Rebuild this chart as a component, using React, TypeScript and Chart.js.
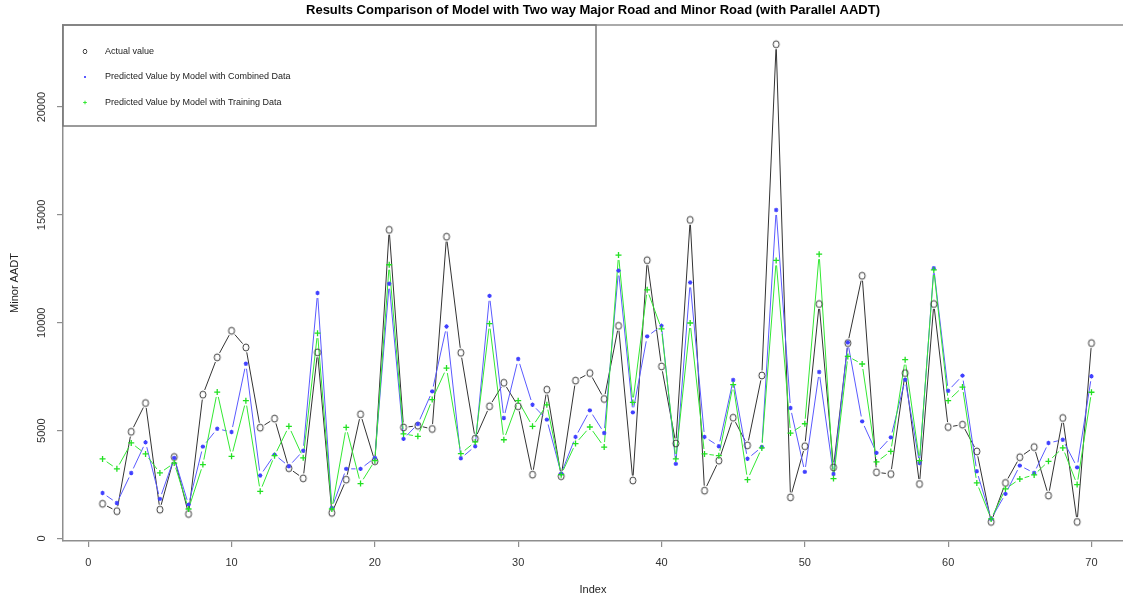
import React, { useEffect, useRef } from 'react';
import { Chart, registerables } from 'chart.js';

Chart.register(...registerables);

const indexValues = [
  1, 2, 3, 4, 5, 6, 7, 8, 9, 10, 11, 12, 13, 14, 15, 16, 17, 18, 19, 20,
  21, 22, 23, 24, 25, 26, 27, 28, 29, 30, 31, 32, 33, 34, 35, 36, 37, 38, 39, 40,
  41, 42, 43, 44, 45, 46, 47, 48, 49, 50, 51, 52, 53, 54, 55, 56, 57, 58, 59, 60,
  61, 62, 63, 64, 65, 66, 67, 68, 69, 70,
];

const actualValues = [
  1610, 1270, 4950, 6280, 1340, 3780, 1140, 6670, 8400, 9630,
  8860, 5140, 5560, 3260, 2790, 8630, 1190, 2730, 5760, 3580,
  14310, 5150, 5230, 5080, 13990, 8610, 4630, 6130, 7220, 6130,
  2960, 6900, 2890, 7320, 7670, 6470, 9860, 2690, 12900, 7980,
  4410, 14770, 2220, 3610, 5600, 4320, 7560, 22910, 1910, 4280,
  10870, 3300, 9060, 12180, 3070, 2990, 7670, 2530, 10870, 5170,
  5280, 4040, 770, 2580, 3770, 4240, 1990, 5590, 770, 9060,
];

const combinedValues = [
  2110, 1650, 3040, 4460, 1840, 3740, 1570, 4260, 5090, 4940,
  8100, 2920, 3890, 3350, 4070, 11380, 1420, 3230, 3230, 3740,
  11810, 4620, 5310, 6820, 9830, 3720, 4280, 11250, 5590, 8320,
  6200, 5510, 3010, 4710, 5940, 4890, 12420, 5850, 9370, 9860,
  3460, 11870, 4710, 4280, 7350, 3700, 4240, 15230, 6050, 3090,
  7720, 2990, 9090, 5430, 3970, 4690, 7360, 3500, 12530, 6850,
  7550, 3120, 910, 2070, 3380, 3040, 4430, 4580, 3300, 7520,
];

const trainingValues = [
  3690, 3230, 4430, 3920, 3040, 3500, 1370, 3430, 6790, 3810,
  6390, 2190, 3840, 5200, 3740, 9520, 1370, 5150, 2550, 3610,
  12690, 4850, 4740, 6440, 7900, 3940, 4480, 9960, 4580, 6390,
  5200, 6200, 2960, 4400, 5170, 4240, 13140, 6310, 11530, 9720,
  3690, 9990, 3920, 3840, 7130, 2730, 4200, 12890, 4890, 5320,
  13180, 2780, 8440, 8090, 3550, 4040, 8290, 3610, 12450, 6390,
  7020, 2580, 910, 2300, 2760, 2950, 3580, 4200, 2500, 6780,
];

const xTickValues = [0, 10, 20, 30, 40, 50, 60, 70];
const yTickValues = [0, 5000, 10000, 15000, 20000];

const seriesLabels = [
  'Actual value',
  'Predicted Value by Model with Combined Data',
  'Predicted Value by Model with Training Data',
];

const chartTitle = 'Results Comparison of Model with Two way Major Road and Minor Road (with Parallel AADT)';
const xTitle = 'Index';
const yTitle = 'Minor AADT';

const FONT = "'Liberation Sans', Arial, sans-serif";
const AXIS_COLOR = '#8e8e8e';
const BLACK = '#333333';
const BLUE = '#5a5aff';
const GREEN = '#33e833';

function makeOMarker(w: number, h: number, lw: number): HTMLCanvasElement {
  const c = document.createElement('canvas');
  c.width = Math.ceil(w + lw * 2 + 2);
  c.height = Math.ceil(h + lw * 2 + 2);
  const g = c.getContext('2d')!;
  g.strokeStyle = '#3a3a3a';
  g.lineWidth = lw;
  g.beginPath();
  g.ellipse(c.width / 2, c.height / 2, w / 2, h / 2, 0, 0, Math.PI * 2);
  g.stroke();
  return c;
}

const gapLinesPlugin = {
  id: 'gapLines',
  beforeDatasetsDraw(chart: any) {
    const { ctx, chartArea } = chart;
    const gap = 5;
    ctx.save();
    ctx.beginPath();
    ctx.rect(chartArea.left, chartArea.top, chartArea.right - chartArea.left, chartArea.bottom - chartArea.top);
    ctx.clip();
    [0, 1, 2].forEach((di) => {
      const meta = chart.getDatasetMeta(di);
      const ds = chart.data.datasets[di];
      ctx.strokeStyle = ds.borderColor;
      ctx.lineWidth = 1;
      ctx.beginPath();
      for (let k = 0; k < meta.data.length - 1; k++) {
        const p = meta.data[k];
        const q = meta.data[k + 1];
        const dx = q.x - p.x;
        const dy = q.y - p.y;
        const len = Math.sqrt(dx * dx + dy * dy);
        if (len <= gap * 2) continue;
        const ux = dx / len;
        const uy = dy / len;
        ctx.moveTo(p.x + ux * gap, p.y + uy * gap);
        ctx.lineTo(q.x - ux * gap, q.y - uy * gap);
      }
      ctx.stroke();
    });
    ctx.restore();
  },
};

const frameLegendPlugin = {
  id: 'frameLegend',
  afterDraw(chart: any) {
    const { ctx, chartArea } = chart;
    const left = chartArea.left;
    const top = chartArea.top;
    ctx.save();
    ctx.strokeStyle = AXIS_COLOR;
    ctx.lineWidth = 1.5;
    ctx.beginPath();
    ctx.moveTo(left, top);
    ctx.lineTo(chartArea.right, top);
    ctx.stroke();
    const boxW = 533;
    const boxH = 101;
    ctx.strokeStyle = '#7a7a7a';
    ctx.lineWidth = 1.5;
    ctx.strokeRect(left, top, boxW, boxH);
    const rows = [26.5, 52, 77.5];
    const mx = left + 22;
    const tx = left + 42;
    ctx.font = `9px ${FONT}`;
    ctx.textBaseline = 'middle';
    ctx.textAlign = 'left';
    rows.forEach((dy, i) => {
      const y = top + dy;
      ctx.fillStyle = '#222';
      ctx.fillText(seriesLabels[i], tx, y);
      ctx.lineWidth = 1;
      if (i === 0) {
        ctx.strokeStyle = '#444';
        ctx.beginPath();
        ctx.ellipse(mx, y, 1.8, 2.2, 0, 0, Math.PI * 2);
        ctx.stroke();
      } else if (i === 1) {
        ctx.fillStyle = BLUE;
        ctx.fillRect(mx - 1, y - 1, 2, 2);
      } else {
        ctx.strokeStyle = GREEN;
        ctx.beginPath();
        ctx.moveTo(mx - 1.8, y);
        ctx.lineTo(mx + 1.8, y);
        ctx.moveTo(mx, y - 1.8);
        ctx.lineTo(mx, y + 1.8);
        ctx.stroke();
      }
    });
    ctx.restore();
  },
};

export default function App() {
  const canvasRef = useRef<HTMLCanvasElement | null>(null);

  useEffect(() => {
    if (!canvasRef.current) return;
    const oMarker = makeOMarker(6, 7, 1);
    const toPoints = (vals: number[]) => vals.map((v, i) => ({ x: indexValues[i], y: v }));

    const chart = new Chart(canvasRef.current, {
      type: 'line',
      data: {
        datasets: [
          {
            label: seriesLabels[0],
            data: toPoints(actualValues),
            borderColor: BLACK,
            showLine: false,
            pointStyle: oMarker as any,
            pointRadius: 4,
            pointBorderColor: '#333',
            pointBackgroundColor: 'rgba(0,0,0,0)',
            order: 3,
          },
          {
            label: seriesLabels[1],
            data: toPoints(combinedValues),
            borderColor: BLUE,
            showLine: false,
            pointStyle: 'star',
            pointRadius: 2.2,
            pointBorderWidth: 1.1,
            pointBorderColor: '#4040ff',
            pointBackgroundColor: '#4040ff',
            order: 2,
          },
          {
            label: seriesLabels[2],
            data: toPoints(trainingValues),
            borderColor: GREEN,
            showLine: false,
            pointStyle: 'cross',
            pointRadius: 3,
            pointBorderWidth: 1.3,
            pointBorderColor: '#22e022',
            pointBackgroundColor: '#22e022',
            order: 1,
          },
        ],
      },
      options: {
        animation: false,
        responsive: false,
        devicePixelRatio: 1,
        layout: { padding: 0, autoPadding: false },
        plugins: {
          legend: { display: false },
          tooltip: { enabled: false },
          title: {
            display: true,
            text: chartTitle,
            fullSize: false,
            color: '#000',
            font: { family: FONT, size: 13, weight: 'bold' },
            padding: { top: 3, bottom: 6.4 },
          },
        },
        scales: {
          x: {
            type: 'linear',
            min: -1.76,
            max: 72.2,
            afterFit: (scale: any) => { scale.height = 57; scale.paddingLeft = 0; scale.paddingRight = 0; },
            afterBuildTicks: (scale: any) => { scale.ticks = xTickValues.map((v) => ({ value: v })); },
            grid: { drawOnChartArea: false, drawTicks: true, tickLength: 6, color: AXIS_COLOR, lineWidth: 1.2 },
            border: { display: true, color: AXIS_COLOR, width: 1.5 },
            ticks: { color: '#333', font: { family: FONT, size: 11 }, padding: 9, maxRotation: 0, autoSkip: false, callback: (v: any) => String(v) },
            title: { display: true, text: xTitle, color: '#222', font: { family: FONT, size: 11 }, padding: { top: 0, bottom: 1.4 } },
          },
          y: {
            type: 'linear',
            min: -114,
            max: 23804,
            afterFit: (scale: any) => { scale.width = 63; scale.paddingTop = 0; scale.paddingBottom = 0; },
            afterBuildTicks: (scale: any) => { scale.ticks = yTickValues.map((v) => ({ value: v })); },
            grid: { drawOnChartArea: false, drawTicks: true, tickLength: 6, color: AXIS_COLOR, lineWidth: 1.2 },
            border: { display: true, color: AXIS_COLOR, width: 1.5 },
            ticks: { color: '#333', font: { family: FONT, size: 11 }, padding: 0, minRotation: 90, maxRotation: 90, crossAlign: 'center', autoSkip: false, callback: (v: any) => String(v) },
            title: { display: true, text: yTitle, color: '#222', font: { family: FONT, size: 11 }, padding: { top: 8.4, bottom: 0 } },
          },
        },
      },
      plugins: [gapLinesPlugin, frameLegendPlugin],
    });
    return () => chart.destroy();
  }, []);

  return (
    <div style={{ position: 'absolute', left: 0, top: 0, width: 1123, height: 598, background: '#fff' }}>
      <canvas ref={canvasRef} width={1123} height={598} style={{ display: 'block' }} />
    </div>
  );
}
